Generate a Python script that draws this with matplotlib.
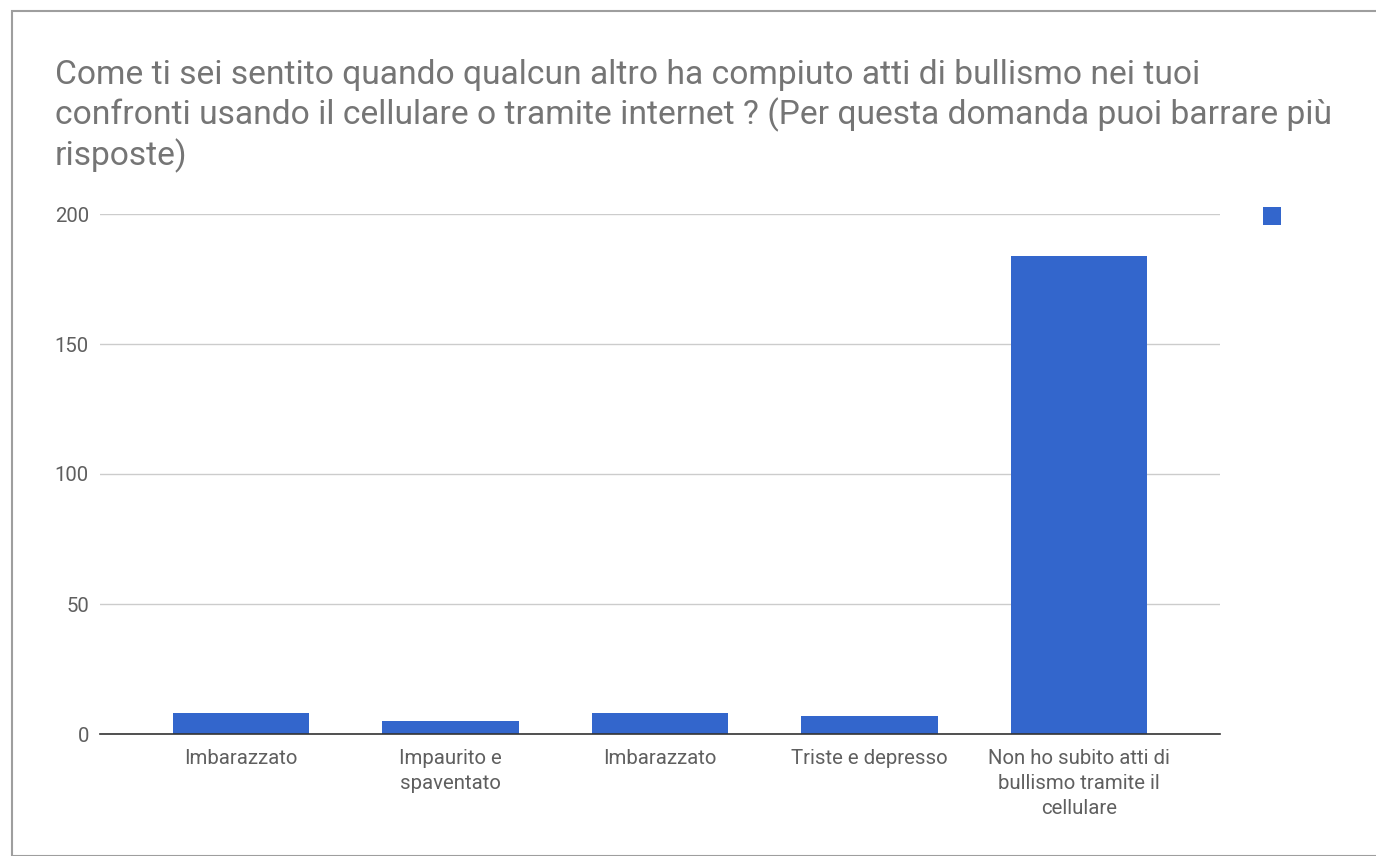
import numpy as np
import matplotlib.pyplot as plt
from matplotlib.patches import Rectangle

plt.rcParams['font.family'] = ['Roboto', 'DejaVu Sans']

# data
categories = ['Imbarazzato', 'Impaurito e\nspaventato', 'Imbarazzato',
              'Triste e depresso', 'Non ho subito atti di\nbullismo tramite il\ncellulare']
counts = [8, 5, 8, 7, 184]
yticks = [0, 50, 100, 150, 200]

title = ('Come ti sei sentito quando qualcun altro ha compiuto atti di bullismo nei tuoi\n'
         'confronti usando il cellulare o tramite internet ? (Per questa domanda puoi barrare più\n'
         'risposte)')

W, H = 1376, 856
fig = plt.figure(figsize=(W / 100, H / 100), dpi=100)

# outer frame
fig.patches.append(Rectangle((12 / W, 0), 1.2, 1 - 11 / H, transform=fig.transFigure,
                             fill=False, edgecolor='#9e9e9e', linewidth=1.5))

left, right, top, bottom = 100, 1220, 214, 734
ax = fig.add_axes([left / W, 1 - bottom / H, (right - left) / W, (bottom - top) / H])

x = np.arange(len(categories))
ax.bar(x, counts, width=0.65, color='#3366cc', zorder=3)

ax.set_xlim(-0.673, 4.673)
ax.set_ylim(0, 200)
ax.set_yticks(yticks)
ax.set_yticklabels([str(v) for v in yticks])
ax.grid(axis='y', color='#cccccc', linewidth=1, zorder=0)
for s in ['top', 'right', 'left']:
    ax.spines[s].set_visible(False)
ax.spines['bottom'].set_color('#333333')
ax.spines['bottom'].set_linewidth(1.2)
ax.spines['bottom'].set_zorder(4)
ax.set_xticks(x)
ax.set_xticklabels(categories, fontsize=14.7, color='#5f5f5f', linespacing=1.38, va='top')
ax.tick_params(axis='x', length=0, pad=11)
ax.tick_params(axis='y', length=0, pad=8, labelsize=14.7, labelcolor='#5f5f5f')

fig.text(55 / W, 1 - 59 / H, title, fontsize=24.2, color='#757575', va='top', ha='left',
         linespacing=1.25)

# legend marker
fig.patches.append(Rectangle((1263 / W, 1 - 225 / H), 18 / W, 18 / H, transform=fig.transFigure,
                             facecolor='#3366cc', edgecolor='none'))

fig.savefig('out.png', dpi=100)
